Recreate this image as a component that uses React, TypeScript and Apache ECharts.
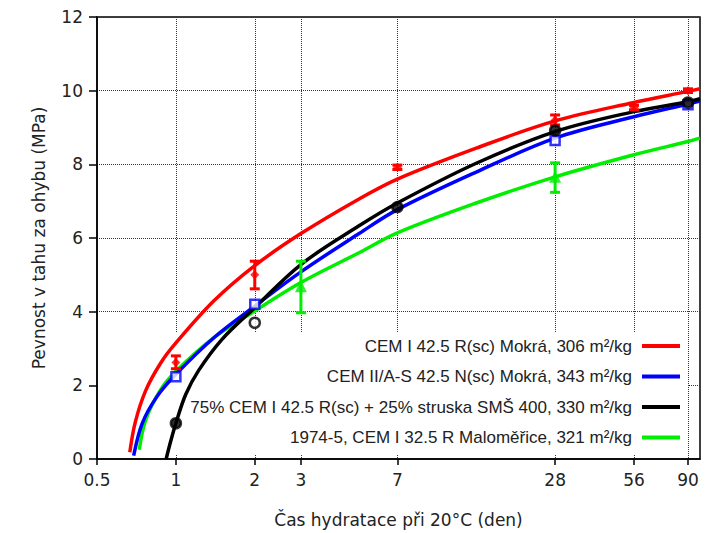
import React, { useEffect, useRef } from "react";
import * as echarts from "echarts";

// x axis tick positions (days, log scale) and labels
const xTicks = [0.5, 1, 2, 3, 7, 28, 56, 90];
const xTickLabels = ["0.5", "1", "2", "3", "7", "28", "56", "90"];

const seriesNames = [
  "CEM I 42.5 R(sc) Mokrá, 306 m²/kg",
  "CEM II/A-S 42.5 N(sc) Mokrá, 343 m²/kg",
  "75% CEM I 42.5 R(sc) + 25% struska SMŠ 400, 330 m²/kg",
  "1974-5, CEM I 32.5 R Maloměřice, 321 m²/kg",
];
const colors = ["#ff0000", "#0000ff", "#000000", "#00ee00"];

// fitted curves
const redCurveX = [0.667, 0.7, 0.766, 0.874, 1, 1.4, 2, 3, 5, 7, 14, 28, 56, 90, 100];
const redCurveY = [0.18, 1.0, 1.85, 2.6, 3.15, 4.3, 5.25, 6.12, 7.06, 7.6, 8.44, 9.18, 9.68, 9.98, 10.05];
const blueCurveX = [0.69, 0.744, 0.848, 1, 1.4, 2, 3, 5, 7, 14, 28, 56, 90, 100];
const blueCurveY = [0.09, 0.97, 1.7, 2.3, 3.3, 4.15, 5.08, 6.12, 6.77, 7.79, 8.71, 9.29, 9.64, 9.72];
const blackCurveX = [0.918, 0.957, 1, 1.09, 1.22, 1.5, 2, 3, 5, 7, 14, 28, 56, 90, 100];
const blackCurveY = [0, 0.5, 0.97, 1.75, 2.4, 3.25, 4.11, 5.28, 6.33, 6.95, 8.03, 8.89, 9.43, 9.7, 9.78];
const greenCurveX = [0.725, 0.766, 0.869, 1, 1.4, 2, 3, 5, 7, 14, 28, 56, 90, 100];
const greenCurveY = [0.25, 1.05, 1.85, 2.38, 3.3, 4.02, 4.79, 5.6, 6.14, 6.95, 7.66, 8.26, 8.62, 8.71];

// measured points
const redPointX = [1, 2, 7, 28, 56, 90];
const redPointY = [2.62, 5.0, 7.92, 9.2, 9.54, 10.0];
const redErrLow = [2.45, 4.62, 7.86, 9.07, 9.48, 9.95];
const redErrHigh = [2.8, 5.37, 7.98, 9.34, 9.6, 10.05];

const bluePointX = [1, 2, 28, 90];
const bluePointY = [2.23, 4.2, 8.65, 9.62];

const blackPointX = [1, 2, 7, 28, 90];
const blackPointY = [0.97, 3.7, 6.84, 8.92, 9.68];
const blackPointFill = ["#000000", "#ffffff", "#000000", "#000000", "#000000"];

const greenPointX = [3, 28];
const greenPointY = [4.69, 7.66];
const greenErrLow = [3.97, 7.24];
const greenErrHigh = [5.37, 8.04];

const lg = (v: number) => Math.log10(v);
const pairs = (xs: number[], ys: number[]) => xs.map((x, i) => [lg(x), ys[i]]);

function errorSeries(color: string, xs: number[], lo: number[], hi: number[]) {
  return {
    type: "custom",
    z: 4,
    silent: true,
    data: xs.map((x, i) => [lg(x), lo[i], hi[i]]),
    encode: { x: 0, y: [1, 2] },
    renderItem: (params: any, api: any) => {
      const x = api.value(0);
      const top = api.coord([x, api.value(2)]);
      const bot = api.coord([x, api.value(1)]);
      const hw = 5;
      const style = { stroke: color, lineWidth: 3 };
      return {
        type: "group",
        children: [
          { type: "line", shape: { x1: top[0], y1: top[1], x2: bot[0], y2: bot[1] }, style },
          { type: "line", shape: { x1: top[0] - hw, y1: top[1], x2: top[0] + hw, y2: top[1] }, style },
          { type: "line", shape: { x1: bot[0] - hw, y1: bot[1], x2: bot[0] + hw, y2: bot[1] }, style },
        ],
      };
    },
  };
}

function curveSeries(name: string, color: string, xs: number[], ys: number[], z: number) {
  return {
    name,
    type: "line",
    data: pairs(xs, ys),
    smooth: 0.35,
    showSymbol: false,
    symbol: "none",
    z,
    lineStyle: { color, width: 3.5 },
    itemStyle: { color },
  };
}

export default function App() {
  const ref = useRef<HTMLDivElement>(null);
  useEffect(() => {
    if (!ref.current) return;
    const chart = echarts.init(ref.current, undefined, { renderer: "svg" });
    const gridLine = { show: true, lineStyle: { color: "#333", width: 1, type: "dotted" } };
    const option: any = {
      animation: false,
      grid: {
        left: 97,
        right: 9,
        top: 17,
        bottom: 73,
        show: true,
        borderColor: "#000",
        borderWidth: 1.5,
      },
      graphic: [
        {
          type: "rect",
          z: 1,
          silent: true,
          shape: { x: 98.5, y: 333, width: 589.5, height: 121 },
          style: { fill: "#ffffff" },
        },
      ],
      legend: {
        orient: "vertical",
        right: 29,
        top: 336,
        align: "right",
        padding: 0,
        itemGap: 10.5,
        itemWidth: 38,
        itemHeight: 4,
        icon: "rect",
        data: seriesNames,
        textStyle: {
          fontFamily: "Liberation Sans",
          fontSize: 17,
          color: "#222",
          lineHeight: 20,
          padding: [0, 5, 0, 0],
        },
      },
      xAxis: {
        type: "value",
        min: lg(0.5),
        max: lg(100),
        name: "Čas hydratace při 20°C (den)",
        nameLocation: "middle",
        nameGap: 52,
        nameTextStyle: { fontFamily: "DejaVu Sans", fontSize: 17, color: "#222" },
        axisLine: { show: true, onZero: false, lineStyle: { color: "#000", width: 1.5 } },
        axisTick: {
          show: true,
          inside: false,
          length: 6,
          lineStyle: { color: "#000", width: 1.5 },
          customValues: xTicks.map(lg),
        },
        axisLabel: {
          customValues: xTicks.map(lg),
          margin: 12,
          fontFamily: "DejaVu Sans",
          fontSize: 17,
          color: "#222",
          formatter: (v: number) => {
            const i = xTicks.findIndex((t) => Math.abs(lg(t) - v) < 1e-6);
            return i >= 0 ? xTickLabels[i] : "";
          },
        },
        splitLine: gridLine,
      },
      yAxis: {
        type: "value",
        min: 0,
        max: 12,
        interval: 2,
        name: "Pevnost v tahu za ohybu (MPa)",
        nameLocation: "middle",
        nameGap: 50,
        nameTextStyle: { fontFamily: "DejaVu Sans", fontSize: 17, color: "#222" },
        axisLine: { show: true, onZero: false, lineStyle: { color: "#000", width: 1.5 } },
        axisTick: { show: true, inside: false, length: 8, lineStyle: { color: "#000", width: 1.5 } },
        axisLabel: { margin: 14, fontFamily: "DejaVu Sans", fontSize: 17, color: "#222" },
        splitLine: gridLine,
      },
      series: [
        errorSeries(colors[0], redPointX, redErrLow, redErrHigh),
        errorSeries(colors[3], greenPointX, greenErrLow, greenErrHigh),
        {
          type: "scatter",
          z: 5,
          data: pairs(redPointX, redPointY),
          symbol: "diamond",
          symbolSize: 9,
          itemStyle: { color: colors[0] },
        },
        {
          type: "scatter",
          z: 5,
          data: pairs(bluePointX, bluePointY),
          symbol: "rect",
          symbolSize: 9,
          itemStyle: { color: "#fff", borderColor: colors[1], borderWidth: 2.5 },
        },
        {
          type: "scatter",
          z: 6,
          data: pairs(blackPointX, blackPointY).map((d, i) => ({
            value: d,
            itemStyle: { color: blackPointFill[i] },
          })),
          symbol: "circle",
          symbolSize: 10,
          itemStyle: { borderColor: colors[2], borderWidth: 2.5 },
        },
        {
          type: "scatter",
          z: 5,
          data: pairs(greenPointX, greenPointY),
          symbol: "triangle",
          symbolSize: 12,
          itemStyle: { color: colors[3] },
        },
        curveSeries(seriesNames[3], colors[3], greenCurveX, greenCurveY, 3),
        curveSeries(seriesNames[1], colors[1], blueCurveX, blueCurveY, 3),
        curveSeries(seriesNames[2], colors[2], blackCurveX, blackCurveY, 3),
        curveSeries(seriesNames[0], colors[0], redCurveX, redCurveY, 3),
      ],
    };
    chart.setOption(option);
    return () => chart.dispose();
  }, []);
  return (
    <div
      ref={ref}
      style={{ position: "fixed", left: 0, top: 0, width: 709, height: 533, background: "#fff" }}
    />
  );
}
